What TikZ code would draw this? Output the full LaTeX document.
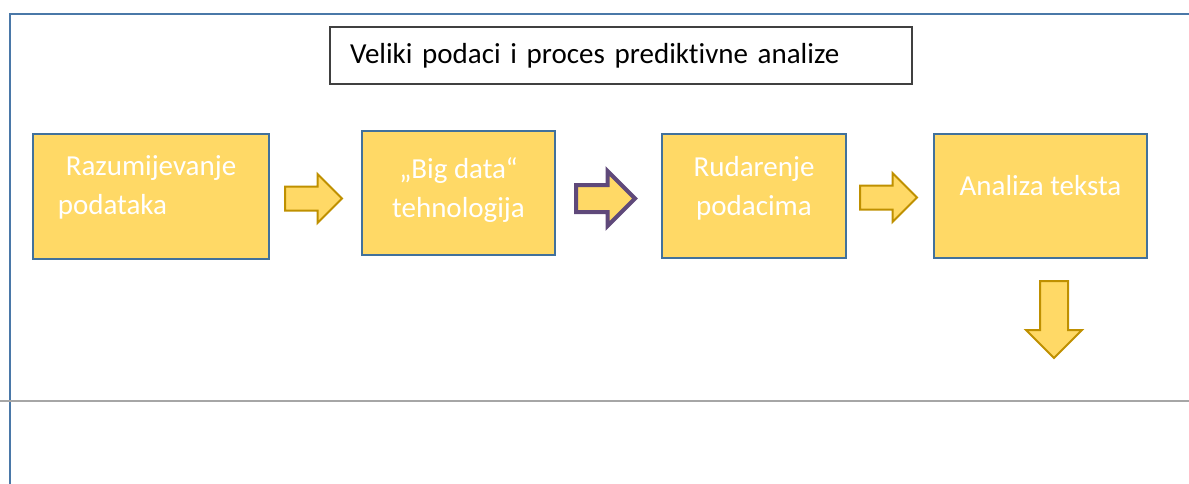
\documentclass[tikz,border=0pt]{standalone}
\usepackage{fontspec}
\setmainfont{Carlito}[Ligatures=NoCommon]
\usetikzlibrary{positioning, shapes.arrows}
\definecolor{BoxFill}{HTML}{FFD966}
\definecolor{BoxLine}{HTML}{41719C}
\definecolor{ArrowLine}{HTML}{BF9000}
\definecolor{ArrowPurple}{HTML}{5F497A}
\definecolor{FrameBlue}{HTML}{4A78A8}
\tikzset{
StepBoxStyle/.style   ={rectangle, draw=BoxLine, fill=BoxFill, line width=2.5pt, inner sep=0pt},
StepTextStyle/.style  ={text=white, font=\fontsize{29}{39}\selectfont, align=center,
                                  inner sep=0pt, anchor=north},
TitleStyle/.style     ={rectangle, draw=black!75, line width=1.3pt, text width=542pt, align=left,
                                  inner xsep=20pt, inner ysep=0pt, minimum height=57pt,
                                  font=\fontsize{29}{34}\selectfont},
BlockArrowStyle/.style={single arrow, draw=ArrowLine, fill=BoxFill, line width=2pt,
                                  minimum width=0pt, anchor=tail},
}

\begin{document}
\begin{tikzpicture}[x=1pt, y=-1pt]
\useasboundingbox (0,0) rectangle (1189,484);
%\draw [dash pattern=on 1pt off 1pt, xstep=50pt, ystep=50pt] (0,0) grid (1189,484);

% okvir
\draw[FrameBlue, line width=2.5pt] (10,484) -- (10,14) -- (1189,14);
\draw[black!35, line width=2pt] (0,401) -- (1189,401);

% naslov
\node[TitleStyle] (title) at (621,55.5) {Veliki podaci i proces prediktivne analize};

\begin{scope}  % koraci
\node[StepBoxStyle, minimum width=236pt, minimum height=125pt] (razum) at (151,196.5) {};
\node[StepBoxStyle, minimum width=193pt, minimum height=124pt] (bigdata) at (458.5,193) {};
\node[StepBoxStyle, minimum width=184pt, minimum height=124pt] (rudar) at (754,196) {};
\node[StepBoxStyle, minimum width=213pt, minimum height=124pt] (tekst) at (1040.5,196) {};

\node[StepTextStyle, align=left, below=23pt of razum.north, xshift=-4pt] (razumT)
     {\hspace{8pt}Razumijevanje\\podataka};
\node[StepTextStyle, below=28pt of bigdata.north] (bigdataT) {„Big data“\\tehnologija};
\node[StepTextStyle, below=23pt of rudar.north] (rudarT) {Rudarenje\\podacima};
\node[StepTextStyle, below=42pt of tekst.north] (tekstT) {Analiza teksta};
\end{scope}

\begin{scope}  % strelice
\node[BlockArrowStyle, minimum height=57pt, inner sep=11pt, single arrow head extend=12.5pt]
     (arrA) at (284,198.5) {};
\node[BlockArrowStyle, draw=ArrowPurple, line width=4pt, minimum height=59pt, inner sep=11.5pt,
      single arrow head extend=14pt] (arrB) at (574,198.5) {};
\node[BlockArrowStyle, minimum height=57pt, inner sep=11pt, single arrow head extend=12.5pt]
     (arrC) at (859,197.5) {};
\node[BlockArrowStyle, shape border rotate=270, minimum height=77pt, inner sep=13pt,
      single arrow head extend=14pt] (arrD) at (1054,280) {};
\end{scope}
\end{tikzpicture}
\end{document}
